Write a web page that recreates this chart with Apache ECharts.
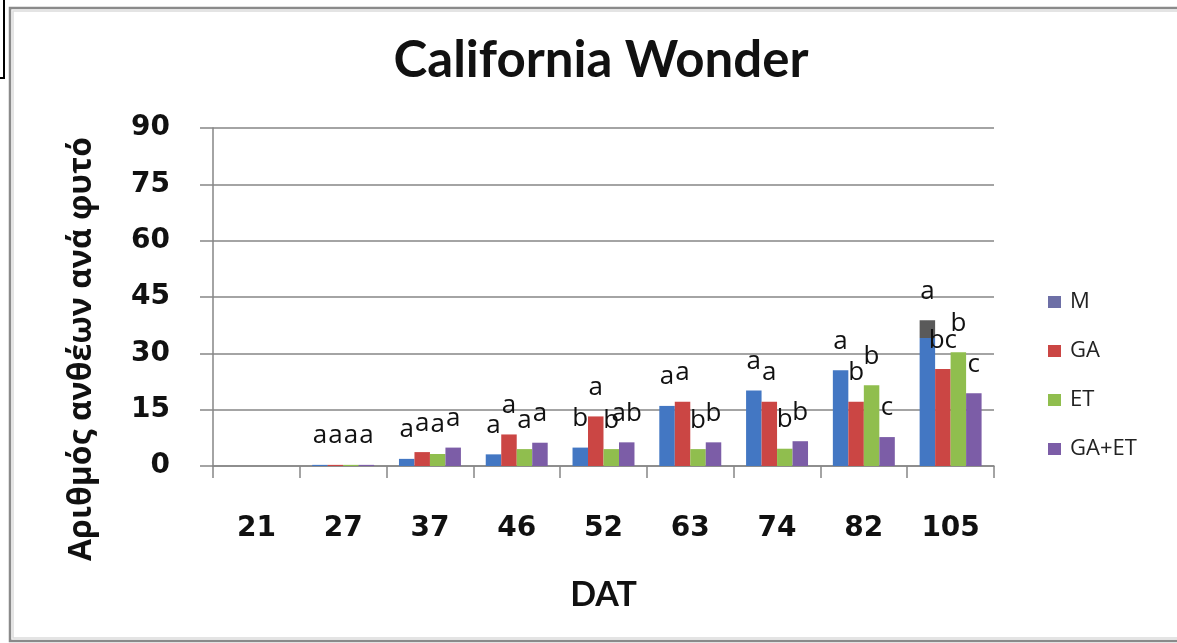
<!DOCTYPE html>
<html>
<head>
<meta charset="utf-8">
<script src="https://cdn.jsdelivr.net/npm/echarts@6/dist/echarts.min.js"></script>
<style>
    html, body { margin: 0; padding: 0; background: #fff; }
    #chart { width: 1177px; height: 643px; }
</style>
</head>
<body>
<div id="chart"></div>
<script>
    // DAT categories
    const days = ['21', '27', '37', '46', '52', '63', '74', '82', '105']
    const names = ['M', 'GA', 'ET', 'GA+ET']
    const colors = ['#4377C3', '#CB4644', '#90BE4E', '#7C5DA7']

    // number of flowers per plant
    const valM = [0, 0.3, 1.9, 3.1, 4.9, 16.0, 20.1, 25.5, 38.8]
    const valGA = [0, 0.3, 3.7, 8.4, 13.2, 17.1, 17.1, 17.1, 25.8]
    const valET = [0, 0.3, 3.2, 4.5, 4.5, 4.5, 4.6, 21.5, 30.3]
    const valGAET = [0, 0.3, 4.9, 6.2, 6.3, 6.3, 6.6, 7.7, 19.4]

    // significance letters
    const sigM = ['', 'a', 'a', 'a', 'b', 'a', 'a', 'a', 'a']
    const sigGA = ['', 'a', 'a', 'a', 'a', 'a', 'a', 'b', 'bc']
    const sigET = ['', 'a', 'a', 'a', 'b', 'b', 'b', 'b', 'b']
    const sigGAET = ['', 'a', 'a', 'a', 'ab', 'b', 'b', 'c', 'c']

    const yTicks = [0, 15, 30, 45, 60, 75, 90]

    const values = [valM, valGA, valET, valGAET]
    const letters = [sigM, sigGA, sigET, sigGAET]

    let chart = echarts.init(document.getElementById('chart'))

    let series = names.map((n, i) => {
        let data = values[i].map((v, j) => {
            let item = { value: v }
            // dark cap on the last M bar
            if (i == 0 && j == values[i].length - 1) {
                item.itemStyle = {
                    color: new echarts.graphic.LinearGradient(0, 0, 0, 1, [
                        { offset: 0, color: '#5a5a5a' },
                        { offset: 0.12, color: '#5a5a5a' },
                        { offset: 0.125, color: colors[0] },
                        { offset: 1, color: colors[0] }
                    ])
                }
            }
            return item
        })
        return {
            name: n,
            type: 'bar',
            barGap: '0%',
            barCategoryGap: '28.6%',
            itemStyle: { color: colors[i] },
            label: {
                show: true,
                position: 'top',
                distance: 16,
                color: '#111',
                fontFamily: 'Open Sans',
                fontSize: 26,
                formatter: p => letters[i][p.dataIndex]
            },
            data: data
        }
    })

    chart.setOption({
        backgroundColor: '#fff',
        animation: false,
        title: {
            text: 'California Wonder',
            left: 596,
            top: 30,
            textAlign: 'center',
            textStyle: {
                fontFamily: 'Lato',
                fontWeight: 'bold',
                fontSize: 51,
                color: '#111'
            }
        },
        legend: {
            orient: 'vertical',
            left: 1043,
            top: 286,
            itemWidth: 13,
            itemHeight: 12,
            itemGap: 27,
            icon: 'rect',
            textStyle: {
                fontFamily: 'Open Sans',
                fontSize: 22,
                lineHeight: 22,
                color: '#222',
                padding: [0, 0, 0, 4]
            },
            data: [
                { name: 'M', itemStyle: { color: '#6D6FA6' } },
                { name: 'GA' },
                { name: 'ET' },
                { name: 'GA+ET' }
            ]
        },
        grid: {
            left: 213,
            right: 183,
            top: 128,
            bottom: 177
        },
        xAxis: {
            type: 'category',
            data: days,
            name: 'DAT',
            nameLocation: 'middle',
            nameGap: 112,
            nameTextStyle: {
                fontFamily: 'Lato',
                fontWeight: 'bold',
                fontSize: 34,
                color: '#111'
            },
            axisLine: { lineStyle: { color: '#868686', width: 1.5 } },
            axisTick: { show: true, length: 12, lineStyle: { color: '#868686', width: 1.5 } },
            axisLabel: {
                margin: 49,
                fontFamily: 'DejaVu Sans',
                fontWeight: 'bold',
                fontSize: 28,
                color: '#111'
            }
        },
        yAxis: {
            type: 'value',
            min: yTicks[0],
            max: yTicks[yTicks.length - 1],
            interval: 15,
            axisLine: { show: true, lineStyle: { color: '#868686', width: 1.5 } },
            axisTick: { show: true, length: 13, lineStyle: { color: '#868686', width: 1.5 } },
            splitLine: { lineStyle: { color: '#868686', width: 1.5 } },
            axisLabel: {
                margin: 43,
                fontFamily: 'DejaVu Sans',
                fontWeight: 'bold',
                fontSize: 28,
                color: '#111'
            }
        },
        graphic: [
            {   // axis title, rotated
                type: 'text',
                x: 82,
                y: 349,
                rotation: Math.PI / 2,
                style: {
                    text: 'Αριθμός ανθέων ανά φυτό',
                    fontFamily: 'Open Sans',
                    fontWeight: 'bold',
                    fontSize: 32,
                    fill: '#111',
                    align: 'center',
                    verticalAlign: 'middle'
                }
            },
            {   // outer frame
                type: 'rect',
                shape: { x: 10, y: 8, width: 1180, height: 633 },
                style: { fill: null, stroke: '#8a8a8a', lineWidth: 2.5 }
            },
            {
                type: 'rect',
                shape: { x: 13, y: 11, width: 1180, height: 627 },
                style: { fill: null, stroke: '#dcdcdc', lineWidth: 1.5 }
            },
            {   // piece of a box at top left
                type: 'rect',
                shape: { x: -20, y: -20, width: 24, height: 98 },
                style: { fill: null, stroke: '#000', lineWidth: 2 }
            }
        ],
        series: series
    })
</script>
</body>
</html>
